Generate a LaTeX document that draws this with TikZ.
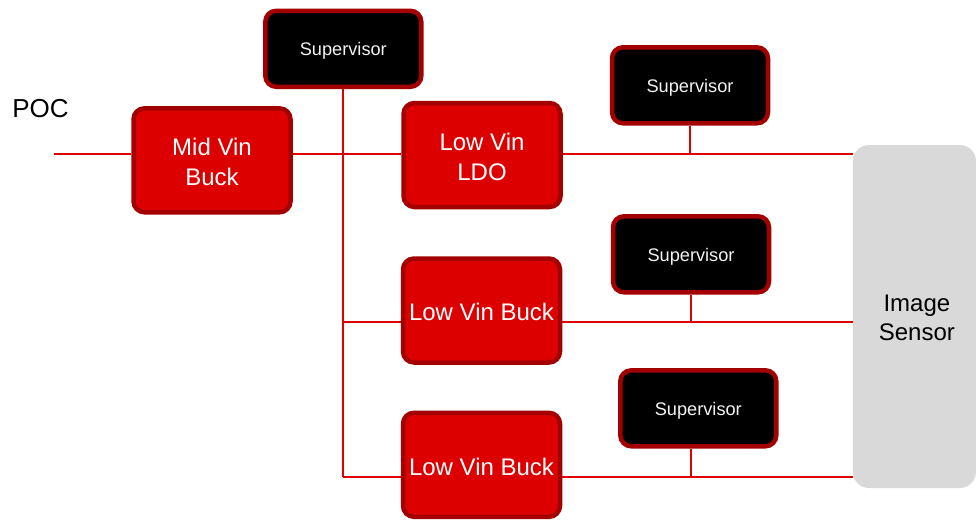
\documentclass[tikz,border=0pt]{standalone}
\usepackage{fontspec}
\setmainfont{Liberation Sans}
\definecolor{boxred}{HTML}{DD0000}
\definecolor{boxrim}{HTML}{A30000}
\definecolor{wirered}{HTML}{E00000}
\definecolor{sensorgray}{HTML}{D9D9D9}
\definecolor{suptext}{HTML}{F2F2F2}
\tikzset{
  wire/.style={draw=wirered, line width=2pt},
  regtext/.style={text=white, align=center, inner sep=0pt, yshift=-1.8pt,
    font=\fontsize{24}{29.5}\selectfont},
  suptext/.style={text=suptext, align=center, inner sep=0pt, yshift=-2pt,
    font=\fontsize{18.2}{21}\selectfont},
  sentext/.style={align=center, inner sep=0pt, xshift=2.5pt, yshift=-1.2pt,
    font=\fontsize{24}{29.5}\selectfont},
  regbox/.style={rectangle, rounded corners=11pt, fill=boxred, draw=boxrim,
    line width=4.5pt, minimum width=157pt, minimum height=104pt,
    inner sep=0pt, label={[regtext]center:#1}},
  supbox/.style={rectangle, rounded corners=11pt, fill=black, draw=boxrim,
    line width=4.5pt, minimum width=156pt, minimum height=76pt,
    inner sep=0pt, label={[suptext]center:Supervisor}},
  sensorbox/.style={rectangle, rounded corners=16pt, fill=sensorgray,
    minimum width=123pt, minimum height=343pt, inner sep=0pt,
    label={[sentext]center:Image\\Sensor}}
}
\begin{document}
\begin{tikzpicture}[x=1pt, y=-1pt]
\useasboundingbox (0,0) rectangle (976,519);

% rails
\coordinate (pocin) at (54,154);
\coordinate (rowB) at (0,322);
\coordinate (rowC) at (0,477);
\coordinate (tap4) at (691,0);

% blocks
\node[supbox] (sup1) at (343.3,48.8) {};
\node[regbox={Mid Vin\\Buck}] (mid) at (212,160.3) {};
\node[regbox={Low Vin\\LDO}] (ldo) at (482,155) {};
\node[supbox] (sup2) at (690,85.3) {};
\node[regbox={Low Vin Buck}] (buck1) at (481.5,310.5) {};
\node[supbox] (sup3) at (691,254.3) {};
\node[regbox={Low Vin Buck}] (buck2) at (481.5,464.8) {};
\node[supbox] (sup4) at (698.3,408.3) {};
\node[sensorbox] (sensor) at (914.4,316.5) {};
\node[font=\fontsize{26}{30}\selectfont, anchor=base] (poc) at (40.5,117) {POC};

% input and first stage
\draw[wire] (pocin) -- (pocin -| mid.west);
\draw[wire] (mid.east |- pocin) -- (ldo.west |- pocin);
\draw[wire] (ldo.east |- pocin) -- (sensor.west |- pocin);

% supervisor bus feeding the low-voltage stages
\draw[wire] (sup1.south) -- (sup1.south |- rowC);
\draw[wire] (sup1.south |- rowB) -- (buck1.west |- rowB);
\draw[wire] (sup1.south |- rowC) -- (buck2.west |- rowC);

% outputs to the sensor
\draw[wire] (buck1.east |- rowB) -- (sensor.west |- rowB);
\draw[wire] (buck2.east |- rowC) -- (sensor.west |- rowC);

% supervisor taps
\draw[wire] (sup2.south) -- (sup2.south |- pocin);
\draw[wire] (sup3.south) -- (sup3.south |- rowB);
\draw[wire] (sup4.south -| tap4) -- (tap4 |- rowC);
\end{tikzpicture}
\end{document}
